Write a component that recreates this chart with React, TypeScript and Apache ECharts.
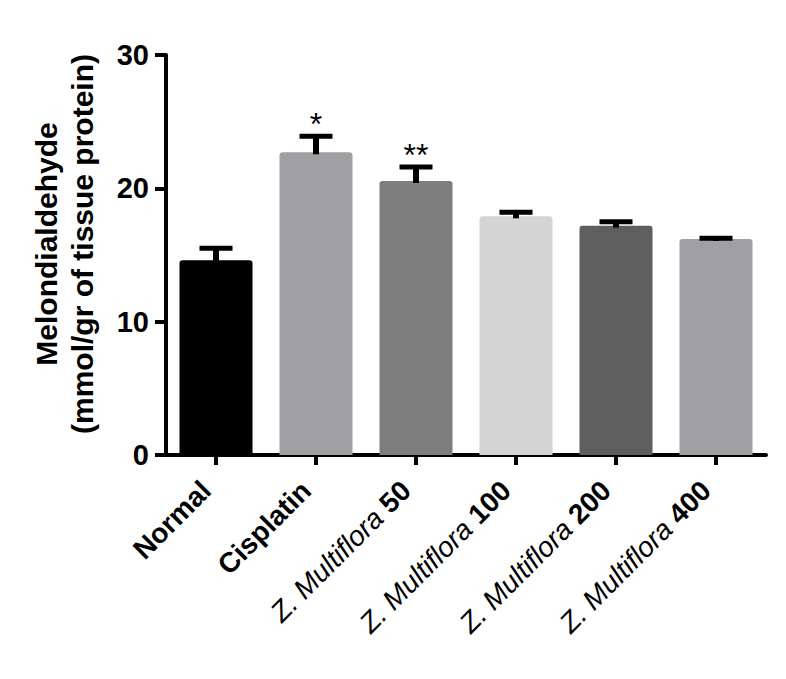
import React, { useEffect, useRef } from "react";
import * as echarts from "echarts";

const categories = [
  "Normal",
  "Cisplatin",
  "Z. Multiflora 50",
  "Z. Multiflora 100",
  "Z. Multiflora 200",
  "Z. Multiflora 400",
];
const means = [14.6, 22.7, 20.55, 17.9, 17.2, 16.2];
const errorTops = [15.5, 23.9, 21.6, 18.2, 17.5, 16.25];
const significance = ["", "*", "**", "", "", ""];
const barColors = ["#000000", "#a0a0a4", "#7e7e7e", "#d4d4d4", "#5e5e5e", "#a0a0a4"];
const yMin = 0;
const yMax = 30;
const yInterval = 10;
const yTitleLines = ["Melondialdehyde", "(mmol/gr of tissue protein)"];

const FONT = "'Liberation Sans', Arial, Helvetica, sans-serif";

export default function App() {
  const ref = useRef<HTMLDivElement>(null);

  useEffect(() => {
    document.body.style.margin = "0";
    if (!ref.current) return;
    const chart = echarts.init(ref.current, null, { renderer: "svg" });

    const errData = categories.map((_, i) => [i, means[i], errorTops[i]]);

    chart.setOption({
      animation: false,
      backgroundColor: "#ffffff",
      grid: { left: 166, right: 20, top: 55, bottom: 224, containLabel: false },
      xAxis: {
        type: "category",
        data: categories,
        boundaryGap: true,
        axisLine: { show: true, lineStyle: { color: "#000", width: 4 } },
        axisTick: { show: true, alignWithLabel: true, length: 10, lineStyle: { color: "#000", width: 4 } },
        axisLabel: {
          interval: 0,
          rotate: 45,
          margin: 21,
          padding: [0, 14, 0, 0],
          color: "#000",
          fontFamily: FONT,
          fontSize: 28,
          formatter: (v: string) => {
            const m = v.match(/^(Z\. Multiflora) (\d+)$/);
            if (m) return `{i|${m[1]} }{b|${m[2]}}`;
            return `{b|${v}}`;
          },
          rich: {
            i: { fontStyle: "italic", fontWeight: "normal", fontSize: 28, fontFamily: FONT, color: "#000" },
            b: { fontWeight: "bold", fontSize: 28, fontFamily: FONT, color: "#000" },
          },
        },
        splitLine: { show: false },
      },
      yAxis: {
        type: "value",
        min: yMin,
        max: yMax,
        interval: yInterval,
        axisLine: { show: true, lineStyle: { color: "#000", width: 4 } },
        axisTick: { show: true, length: 11, lineStyle: { color: "#000", width: 4 } },
        axisLabel: { margin: 17, color: "#000", fontFamily: FONT, fontSize: 29, fontWeight: "bold" },
        splitLine: { show: false },
      },
      graphic: [
        {
          type: "rect",
          shape: { x: 155, y: 453, width: 13, height: 4 },
          style: { fill: "#000" },
          silent: true,
        },
        {
          type: "text",
          x: 64,
          y: 244,
          rotation: Math.PI / 2,
          style: {
            text: yTitleLines.join("\n"),
            font: `bold 30px ${FONT}`,
            fill: "#000",
            textAlign: "center",
            textVerticalAlign: "middle",
            lineHeight: 36,
          },
          silent: true,
        },
      ],
      series: [
        {
          type: "bar",
          data: means.map((v, i) => ({ value: v, itemStyle: { color: barColors[i] } })),
          barWidth: 73,
          itemStyle: { borderRadius: [3, 3, 0, 0] },
          z: 2,
        },
        {
          type: "custom",
          data: errData,
          z: 3,
          renderItem: (params: any, api: any) => {
            const idx = api.value(0);
            const top = api.coord([idx, api.value(2)]);
            const base = api.coord([idx, api.value(1)]);
            const capW = 33;
            const capH = 5;
            const stemW = 6;
            const children: any[] = [
              {
                type: "rect",
                shape: { x: top[0] - stemW / 2, y: top[1], width: stemW, height: Math.max(0, base[1] - top[1] + 2) },
                style: { fill: "#000" },
              },
              {
                type: "rect",
                shape: { x: top[0] - capW / 2, y: top[1] - capH / 2, width: capW, height: capH },
                style: { fill: "#000" },
              },
            ];
            const mark = significance[params.dataIndex];
            if (mark) {
              children.push({
                type: "text",
                x: top[0],
                y: top[1] - capH / 2 + 6,
                style: {
                  text: mark,
                  font: `32px ${FONT}`,
                  fill: "#000",
                  textAlign: "center",
                  textVerticalAlign: "bottom",
                },
              });
            }
            return { type: "group", children };
          },
        },
      ],
    });

    return () => chart.dispose();
  }, []);

  return <div ref={ref} style={{ width: 786, height: 679 }} />;
}
